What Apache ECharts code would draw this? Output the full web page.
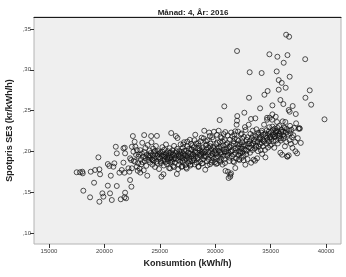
<!DOCTYPE html>
<html><head><meta charset="utf-8">
<script src="https://cdn.jsdelivr.net/npm/echarts@6/dist/echarts.min.js"></script>
<style>html,body{margin:0;padding:0;background:#fff}#c{width:346px;height:277px}</style>
</head><body><div id="c"></div>
<script>
const titleText = 'Månad: 4, År: 2016';
const xName = 'Konsumtion (kWh/h)';
const yName = 'Spotpris SE3 (kr/kWh/h)';
const xTicks = [15000, 20000, 25000, 30000, 35000, 40000];
const yTicks = [0.10, 0.15, 0.20, 0.25, 0.30, 0.35];

// [consumption kWh/h, spot price kr/kWh/h]
const lowLoad = [
[17500,0.1744],[17800,0.1744],[18010,0.1751],[18050,0.1731],[18770,0.1751],[19160,0.1772],[19550,0.1780],[19610,0.1719],
[19460,0.1927],[19070,0.1616],[18100,0.1518],[18710,0.1437],[19550,0.1383],[19820,0.1486],[19910,0.1445],[20310,0.1580],
[20510,0.1486],[20670,0.1404],[20580,0.1702],[20310,0.1845],[20450,0.1821],[20900,0.1854],[20810,0.1812],[21120,0.1576],
[21360,0.1739],[21570,0.1772],[21720,0.1862],[21810,0.1739],[21480,0.1413],[21810,0.1437],[21870,0.1494],[21960,0.1425],
[22320,0.1649],[22440,0.1567],[21030,0.2057],[21120,0.1976],[21720,0.2038],[21870,0.1976],[22480,0.2057],[22620,0.1996],
[22320,0.1915],[22770,0.1873],[22930,0.1812],[22170,0.1793],[22480,0.1793],[22260,0.1751],[22930,0.2017],[23070,0.1935],
[22650,0.1884],[22860,0.1957],[23010,0.1762],[22730,0.2118],[21840,0.2045],[22800,0.2057],[22570,0.2188],[22410,0.1894]
];
const midLoad = [
[23050,0.1855],[23120,0.1962],[23180,0.1788],[23240,0.2015],[23290,0.1902],[23330,0.1841],[23380,0.1975],[23420,0.2105],
[23460,0.1868],[23510,0.1935],[23550,0.1768],[23600,0.1991],[23640,0.1884],[23700,0.2042],[23730,0.1918],[23780,0.1823],
[23820,0.1957],[23870,0.1702],[23910,0.2078],[23960,0.1894],[23990,0.1947],[23590,0.2200],[23240,0.1740],
[24040,0.1928],[24080,0.2011],[24130,0.1862],[24170,0.1979],[24220,0.2188],[24250,0.2112],[24280,0.1905],[24330,0.1838],
[24370,0.1951],[24400,0.2034],[24450,0.1883],[24490,0.1996],[24530,0.1917],[24570,0.1809],[24610,0.1964],[24650,0.2066],
[24700,0.1875],[24740,0.2190],[24760,0.1941],[24800,0.1852],[24850,0.2003],[24890,0.1928],[24930,0.1784],[24970,0.1972],
[25030,0.1913],[25070,0.1987],[25110,0.1856],[25150,0.1690],[25190,0.1945],[25230,0.2052],[25270,0.1891],[25310,0.1960],
[25330,0.1720],[25360,0.1827],[25400,0.2021],[25440,0.1902],[25480,0.1938],[25520,0.1869],[25560,0.2085],[25600,0.1977],
[25640,0.1844],[25680,0.1925],[25720,0.2003],[25760,0.1881],[25800,0.1952],[25840,0.1796],[25880,0.2039],[25920,0.1916],
[25960,0.1867],[25990,0.1984],
[26030,0.2225],[26060,0.1935],[26100,0.1874],[26140,0.2012],[26170,0.1958],[26210,0.1822],[26250,0.1903],[26290,0.2067],
[26330,0.1949],[26370,0.1861],[26410,0.1986],[26450,0.2188],[26490,0.1911],[26540,0.1723],[26570,0.2031],[26600,0.2164],
[26640,0.1895],[26680,0.1967],[26720,0.1838],[26760,0.2004],[26800,0.1928],[26840,0.1875],[26880,0.2086],[26920,0.1952],
[26960,0.1809],[26990,0.1993],
[27030,0.1918],[27070,0.2043],[27110,0.1867],[27150,0.1974],[27190,0.2112],[27230,0.1896],[27270,0.1952],[27310,0.1831],
[27350,0.2009],[27390,0.1941],[27430,0.1788],[27470,0.2065],[27510,0.1923],[27550,0.1985],[27590,0.1858],[27630,0.2031],
[27670,0.1906],[27710,0.2142],[27750,0.1969],[27790,0.1842],[27830,0.2018],[27870,0.1937],[27910,0.1881],[27950,0.2074],
[27990,0.1958],
[28030,0.1964],[28070,0.2051],[28110,0.1893],[28150,0.2002],[28200,0.2204],[28240,0.1937],[28280,0.2096],[28320,0.1862],
[28360,0.1988],[28400,0.2035],[28440,0.1921],[28480,0.1809],[28520,0.2069],[28560,0.1957],[28600,0.2013],[28640,0.1878],
[28680,0.2125],[28720,0.1946],[28760,0.1992],[28800,0.1851],[28840,0.2048],[28880,0.1975],[28920,0.1904],[28960,0.2158],
[28990,0.1937]
];
const highLoad = [
[29010,0.2253],[29050,0.1996],[29100,0.1775],[29130,0.2072],[29170,0.1934],[29210,0.2019],[29250,0.1878],[29290,0.2136],
[29330,0.1962],[29370,0.2047],[29410,0.1905],[29450,0.2231],[29490,0.1989],[29530,0.1842],[29570,0.2094],[29610,0.1951],
[29650,0.2026],[29690,0.1887],[29730,0.2173],[29770,0.1973],[29810,0.2058],[29850,0.1912],[29890,0.2241],[29930,0.1995],
[29970,0.1868],
[30020,0.2012],[30060,0.1924],[30100,0.2087],[30140,0.1968],[30180,0.1853],[30220,0.2041],[30260,0.1937],[30310,0.2253],
[30340,0.2006],[30380,0.1892],[30420,0.2115],[30460,0.1979],[30500,0.2053],[30540,0.1911],[30580,0.2164],[30620,0.1987],
[30660,0.1838],[30700,0.2072],[30740,0.1945],[30780,0.2024],[30820,0.1903],[30860,0.2138],[30910,0.2237],[30930,0.1761],
[30970,0.1996],
[31020,0.2031],[31060,0.1947],[31100,0.2102],[31150,0.1751],[31180,0.1986],[31210,0.1674],[31250,0.2058],[31290,0.1923],
[31330,0.2143],[31360,0.1714],[31390,0.1998],[31430,0.1731],[31470,0.2076],[31510,0.1941],[31550,0.2186],[31590,0.2012],
[31630,0.1879],[31670,0.2094],[31710,0.1962],[31750,0.2157],[31810,0.2246],[31850,0.2035],[31890,0.1914],[31930,0.2327],
[31970,0.2376],[31990,0.2083],[31810,0.1796],[31360,0.1690],
[32030,0.2045],[32070,0.1958],[32110,0.2132],[32150,0.2001],[32190,0.1893],[32230,0.2087],[32270,0.1976],[32310,0.2209],
[32350,0.2034],[32390,0.1921],[32430,0.2112],[32470,0.1989],[32510,0.2063],[32550,0.1948],[32590,0.2178],[32630,0.2026],
[32680,0.2297],[32720,0.1837],[32760,0.2074],[32800,0.1967],[32840,0.2141],[32880,0.2008],[32920,0.1905],[32960,0.2094],
[33020,0.2327],[33060,0.2048],[33100,0.2126],[33140,0.1983],[33180,0.2215],[33240,0.1861],[33270,0.2082],[33310,0.2163],
[33350,0.2017],[33390,0.2254],[33430,0.2098],[33470,0.1898],[33510,0.2145],[33560,0.2036],[33600,0.1886],[33640,0.2189],
[33680,0.2072],[33720,0.2271],[33780,0.1915],[33810,0.2118],[33850,0.2003],[33890,0.2207],[33940,0.2061],[33980,0.2162]
];
const peakLoad = [
[34030,0.2089],[34070,0.2174],[34110,0.2016],[34150,0.2231],[34190,0.2103],[34230,0.1968],[34270,0.2147],[34310,0.2062],
[34350,0.2205],[34410,0.2327],[34450,0.2121],[34490,0.2018],[34530,0.1927],[34570,0.2186],[34610,0.2093],[34650,0.2258],
[34680,0.2388],[34720,0.2142],[34760,0.2047],[34800,0.2213],[34840,0.2119],[34880,0.2296],[34920,0.2168],[34960,0.2071],
[35020,0.2234],[35060,0.2152],[35100,0.2087],[35130,0.2388],[35170,0.2196],[35210,0.2263],[35250,0.2124],[35290,0.2211],
[35330,0.2045],[35370,0.2279],[35410,0.2183],[35450,0.2227],[35490,0.2132],[35530,0.2246],[35580,0.2360],[35610,0.2198],
[35650,0.2097],[35690,0.2242],[35730,0.2163],[35770,0.2311],[35810,0.2215],[35880,0.1984],[35910,0.2132],[35940,0.2160],
[35980,0.2267],
[36040,0.1959],[36090,0.2368],[36130,0.2243],[36170,0.2156],[36210,0.2295],[36250,0.2187],[36290,0.2062],[36330,0.2360],
[36370,0.2228],[36410,0.2117],[36450,0.2274],[36490,0.1940],[36520,0.1935],[36560,0.2206],[36630,0.1952],[36670,0.2251],
[36710,0.2138],[36750,0.2313],[36790,0.2221],[36830,0.2092],[36880,0.2265],[36930,0.2174],[36970,0.2043],
[37050,0.2198],[37120,0.2287],[37210,0.2115],[37240,0.2001],[37300,0.2344],[37390,0.1976],[37450,0.2162],[37510,0.2278],
[37600,0.2286],[37630,0.2278],[37720,0.2104]
];
const coreExtra = [
[24120,0.1948],[24360,0.1893],[24580,0.2007],[24820,0.1962],[25050,0.1876],[25210,0.1998],[25380,0.1934],[25540,0.1961],
[25700,0.1905],[25860,0.1982],[26020,0.1896],[26190,0.1973],[26350,0.1918],[26520,0.2001],[26700,0.1937],[26870,0.1969],
[27040,0.1884],[27200,0.2006],[27370,0.1912],[27540,0.1947],[27700,0.1879],[27880,0.2027],[28050,0.1916],[28220,0.1982],
[28390,0.1905],[28570,0.2038],[28730,0.1971],[28900,0.2011],[29080,0.1943],[29240,0.2085],[29400,0.1996],[29560,0.2063],
[29720,0.1928],[29880,0.2041],[30040,0.1976],[30200,0.2108],[30360,0.2049],[30520,0.1963],[30680,0.2119],[30840,0.2001],
[31000,0.2079],[31160,0.1958],[31320,0.2052],[31480,0.2003],[31640,0.2121],[31800,0.1982],[31960,0.2147],[32120,0.2062],
[32280,0.1995],[32440,0.2155],[32600,0.2084],[32760,0.2011],[32920,0.2173],[33080,0.2096],[33240,0.2041],[33400,0.2188],
[33560,0.2119],[33720,0.2057],[33880,0.2229],[34040,0.2146],[34200,0.2253],[34360,0.2128],[34520,0.2219],[34680,0.2165],
[34840,0.2243],[35000,0.2181],[35160,0.2304],[35320,0.2176],[35480,0.2251],[35640,0.2287],[35800,0.2192],[35960,0.2238],
[36120,0.2201],[36280,0.2286],
[27120,0.2085],[27480,0.2119],[27820,0.2093],[28130,0.2137],[28460,0.2102],[28780,0.2168],[29160,0.2124],[29520,0.2189],
[29840,0.2147],[30160,0.2203],[30480,0.2181],[30760,0.2212],[31120,0.2196],[31440,0.2231],[31720,0.2208],[32060,0.2243],
[32380,0.2219],[32740,0.2262],
[25940,0.1791],[26280,0.1808],[26660,0.1783],[27020,0.1819],[27380,0.1802],[27760,0.1827],[28140,0.1841],[28500,0.1818],
[28860,0.1856],[29300,0.1829],[29680,0.1864],[30080,0.1847],[30460,0.1873],[30880,0.1858],[31280,0.1882],[31700,0.1867],
[32140,0.1904],[32560,0.1891]
];
const priceSpikes = [
[36400,0.3430],[36670,0.3405],[31970,0.3230],[34890,0.3190],[35610,0.3160],[36520,0.3180],[38120,0.3130],[36180,0.3086],
[33110,0.2970],[34190,0.2960],[35550,0.2980],[36720,0.2915],[35730,0.2874],[36000,0.2840],[36360,0.2780],[35730,0.2756],
[38530,0.2748],[34730,0.2740],[34440,0.2694],[33050,0.2657],[38140,0.2657],[35880,0.2630],[35160,0.2564],[36150,0.2580],
[36990,0.2556],[38660,0.2572],[30820,0.2552],[34050,0.2528],[36630,0.2507],[36720,0.2486],[37270,0.2458],[32630,0.2474],
[35160,0.2454],[31990,0.2433],[34680,0.2412],[34920,0.2412],[35460,0.2425],[33230,0.2397],[33620,0.2405],[39860,0.2393],
[30400,0.2384]
];

const allPoints = [].concat(lowLoad, midLoad, highLoad, peakLoad, coreExtra, priceSpikes);
const fmtY = v => ',' + (Math.round(v * 100)).toString().padStart(2, '0');
const fmtX = v => String(Math.round(v));
const font = 'Liberation Sans, Arial, sans-serif';

const chart = echarts.init(document.getElementById('c'), null, {renderer: 'canvas'});
chart.setOption({
  animation: false,
  backgroundColor: '#ffffff',
  title: {
    text: titleText, left: 188, top: 4, textAlign: 'center',
    textStyle: {fontFamily: font, fontSize: 8, fontWeight: 'bold', color: '#222'}
  },
  grid: {left: 34, right: 5, top: 17, bottom: 33, show: true, containLabel: false, outerBoundsMode: 'none',
    backgroundColor: '#efefef', borderColor: '#b4b4b4', borderWidth: 1},
  xAxis: [{
    type: 'value', min: 13650, max: 41350,
    name: xName, nameLocation: 'middle', nameGap: 13,
    nameTextStyle: {fontFamily: font, fontSize: 9, fontWeight: 'bold', color: '#222'},
    axisLine: {show: false},
    axisTick: {show: true, customValues: xTicks, length: 4, lineStyle: {color: '#333'}},
    axisLabel: {customValues: xTicks, formatter: fmtX, fontFamily: font, fontSize: 6, color: '#444', margin: 4},
    splitLine: {show: false}
  }, {
    type: 'value', position: 'top', min: 13650, max: 41350,
    axisLine: {show: true, lineStyle: {color: '#1a1a1a', width: 1}},
    axisTick: {show: false}, axisLabel: {show: false}, splitLine: {show: false}
  }],
  yAxis: {
    type: 'value', min: 0.0865, max: 0.3647,
    name: yName, nameLocation: 'middle', nameGap: 20, nameMoveOverlap: false,
    nameTextStyle: {fontFamily: font, fontSize: 9, fontWeight: 'bold', color: '#222'},
    axisLine: {show: false},
    axisTick: {show: true, customValues: yTicks, length: 4, lineStyle: {color: '#333'}},
    axisLabel: {customValues: yTicks, formatter: fmtY, fontFamily: font, fontSize: 6, color: '#444', margin: 3},
    splitLine: {show: false}
  },
  series: [{
    type: 'scatter', xAxisIndex: 0, data: allPoints,
    symbol: 'circle', symbolSize: 5,
    itemStyle: {color: 'rgba(0,0,0,0)', borderColor: '#111', borderWidth: 0.9}
  }]
});
</script></body></html>
